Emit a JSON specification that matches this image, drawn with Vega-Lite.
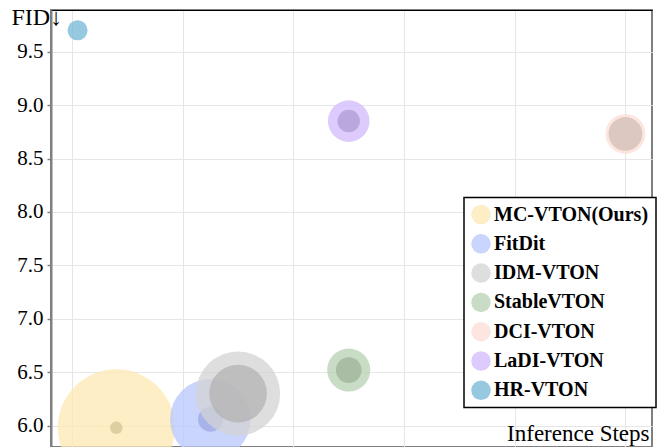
{
  "$schema": "https://vega.github.io/schema/vega-lite/v6.json",
  "width": 601,
  "height": 437,
  "autosize": {"type": "none"},
  "padding": {"left": 51, "top": 10, "right": 8, "bottom": 0},
  "background": "white",
  "config": {
    "view": {"stroke": "#808080", "strokeWidth": 2},
    "font": "Liberation Serif",
    "axis": {"labelFont": "Liberation Serif", "labelFontSize": 21, "titleFont": "Liberation Serif"},
    "axisY": {"labelFont": "Liberation Serif", "labelFontSize": 21}
  },
  "data": {
    "values": [
      {"method": "MC-VTON(Ours)", "series": "MC-VTON(Ours)", "steps": 8, "fid": 5.98, "value": 43.6},
      {"method": "MC-VTON(Ours)", "series": "MC-VTON(Ours) inner", "steps": 8, "fid": 5.98, "value": 0.49},
      {"method": "FitDit", "series": "FitDit", "steps": 25, "fid": 6.06, "value": 20.7},
      {"method": "FitDit", "series": "FitDit inner", "steps": 25, "fid": 6.06, "value": 1.96},
      {"method": "IDM-VTON", "series": "IDM-VTON", "steps": 30, "fid": 6.3, "value": 22.6},
      {"method": "IDM-VTON", "series": "IDM-VTON inner", "steps": 30, "fid": 6.3, "value": 10.6},
      {"method": "StableVTON", "series": "StableVTON", "steps": 50, "fid": 6.52, "value": 5.9},
      {"method": "StableVTON", "series": "StableVTON inner", "steps": 50, "fid": 6.52, "value": 2.1},
      {"method": "DCI-VTON", "series": "DCI-VTON", "steps": 100, "fid": 8.73, "value": 5.06},
      {"method": "DCI-VTON", "series": "DCI-VTON inner", "steps": 100, "fid": 8.73, "value": 3.61},
      {"method": "LaDI-VTON", "series": "LaDI-VTON", "steps": 50, "fid": 8.85, "value": 5.52},
      {"method": "LaDI-VTON", "series": "LaDI-VTON inner", "steps": 50, "fid": 8.85, "value": 1.61},
      {"method": "HR-VTON", "series": "HR-VTON", "steps": 1, "fid": 9.7, "value": 1.28}
    ]
  },
  "mark": {"type": "point", "filled": true, "shape": "circle", "opacity": 0.75, "strokeWidth": 0, "clip": true},
  "encoding": {
    "x": {
      "field": "steps", "type": "quantitative",
      "scale": {"domain": [-3.8, 104.8], "nice": false, "zero": false},
      "axis": {
        "orient": "top", "values": [0, 20, 40, 60, 80, 100], "labels": false, "ticks": false,
        "domain": true, "domainColor": "#000000", "domainWidth": 1.2,
        "grid": true, "gridColor": "#e6e6e6", "gridWidth": 1,
        "title": "Inference Steps", "titleFont": "Liberation Serif", "titleFontSize": 23, "titleFontWeight": "normal",
        "titleColor": "#000000", "titleX": 598, "titleY": 430, "titleAlign": "right", "titleBaseline": "alphabetic", "titleAnchor": null
      }
    },
    "y": {
      "field": "fid", "type": "quantitative",
      "scale": {"domain": [5.8, 9.89], "nice": false, "zero": false},
      "axis": {
        "values": [6, 6.5, 7, 7.5, 8, 8.5, 9, 9.5], "format": ".1f",
        "labelFont": "Liberation Serif", "labelFontSize": 21, "labelColor": "#000000", "labelPadding": 4,
        "labelOverlap": false, "labelFlush": false,
        "tickSize": 4, "tickColor": "#808080", "tickWidth": 1.5,
        "domainColor": "#808080", "domainWidth": 2,
        "grid": true, "gridColor": "#e6e6e6", "gridWidth": 1,
        "title": "FID↓", "titleAngle": 0, "titleX": -40, "titleY": 14, "titleAlign": "left", "titleBaseline": "alphabetic",
        "titleFont": "Liberation Serif", "titleFontSize": 24, "titleFontWeight": "normal", "titleColor": "#000000"
      }
    },
    "size": {
      "field": "value", "type": "quantitative",
      "scale": {"type": "linear", "domain": [0, 50], "range": [0, 15708], "zero": true},
      "legend": null
    },
    "color": {
      "field": "series", "type": "nominal",
      "scale": {
        "domain": ["MC-VTON(Ours)", "FitDit", "IDM-VTON", "StableVTON", "DCI-VTON", "LaDI-VTON", "HR-VTON",
                   "MC-VTON(Ours) inner", "FitDit inner", "IDM-VTON inner", "StableVTON inner", "DCI-VTON inner", "LaDI-VTON inner"],
        "range": ["#fee8b3", "#b7c7fc", "#d3d3d3", "#b7d0b2", "#fbded4", "#d0bafb", "#73b7d6",
                  "#d2c496", "#9ca8e1", "#b3b3b3", "#9eb39a", "#d1beb7", "#ad9cd4"]
      },
      "legend": {
        "orient": "none", "legendX": 413, "legendY": 187.5,
        "values": ["MC-VTON(Ours)", "FitDit", "IDM-VTON", "StableVTON", "DCI-VTON", "LaDI-VTON", "HR-VTON"],
        "title": null, "strokeColor": "#000000", "fillColor": "#ffffff", "padding": 7,
        "labelFont": "Liberation Serif", "labelFontSize": 20, "labelFontWeight": "bold", "labelColor": "#000000",
        "labelLimit": 300, "labelOffset": 3,
        "symbolType": "circle", "symbolSize": 380, "symbolOpacity": 0.75, "symbolStrokeWidth": 0,
        "rowPadding": 9.3, "cornerRadius": 0,
        "encode": {"legend": {"update": {"strokeWidth": {"value": 1.5}}}}
      }
    }
  }
}
